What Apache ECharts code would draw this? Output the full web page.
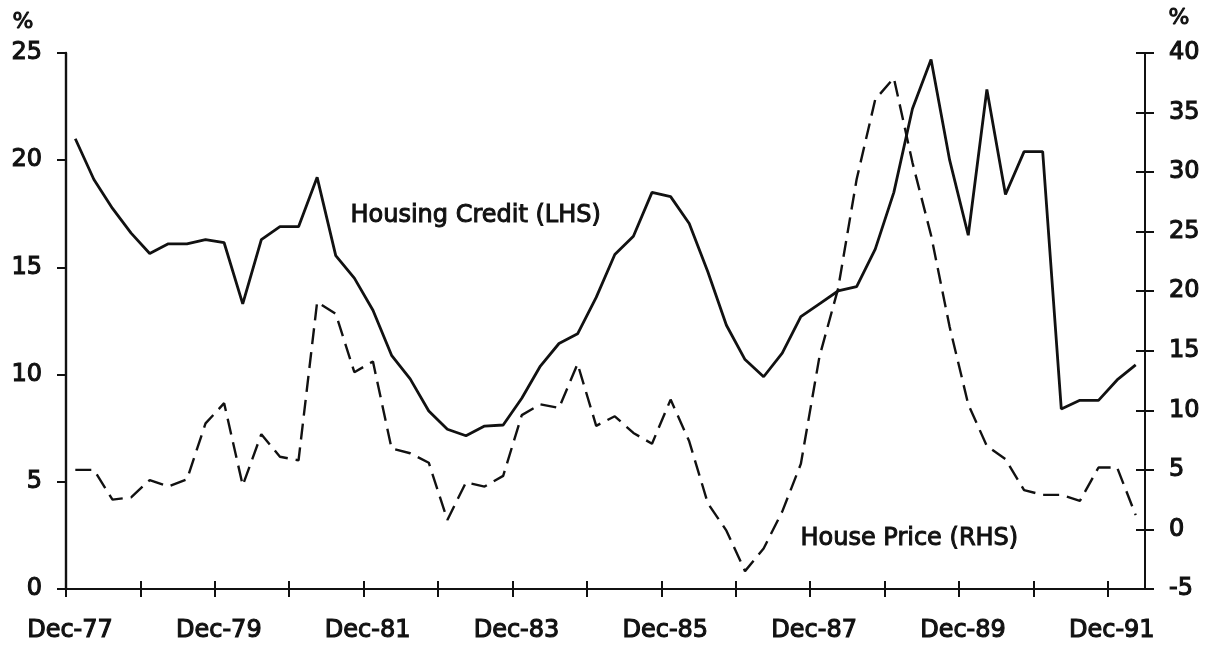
<!DOCTYPE html>
<html>
<head>
<meta charset="utf-8">
<title>Housing Credit and House Price</title>
<script src="https://cdn.jsdelivr.net/npm/echarts@6/dist/echarts.min.js"></script>
<style>
html, body { margin: 0; padding: 0; background: #fff; }
#chart { width: 1211px; height: 647px; }
</style>
</head>
<body>
<div id="chart"></div>
<script>
// quarterly observations, Mar-78 .. Jun-92
var quarters = [
	"Mar-78", "Jun-78", "Sep-78", "Dec-78", "Mar-79", "Jun-79", "Sep-79", "Dec-79",
	"Mar-80", "Jun-80", "Sep-80", "Dec-80", "Mar-81", "Jun-81", "Sep-81", "Dec-81",
	"Mar-82", "Jun-82", "Sep-82", "Dec-82", "Mar-83", "Jun-83", "Sep-83", "Dec-83",
	"Mar-84", "Jun-84", "Sep-84", "Dec-84", "Mar-85", "Jun-85", "Sep-85", "Dec-85",
	"Mar-86", "Jun-86", "Sep-86", "Dec-86", "Mar-87", "Jun-87", "Sep-87", "Dec-87",
	"Mar-88", "Jun-88", "Sep-88", "Dec-88", "Mar-89", "Jun-89", "Sep-89", "Dec-89",
	"Mar-90", "Jun-90", "Sep-90", "Dec-90", "Mar-91", "Jun-91", "Sep-91", "Dec-91",
	"Mar-92", "Jun-92"
];

// Housing Credit, % (left axis)
var housingCredit = [
	21.0, 19.1, 17.75, 16.6, 15.65, 16.1, 16.1, 16.3,
	16.15, 13.3, 16.3, 16.9, 16.9, 19.2, 15.55, 14.5,
	13.0, 10.9, 9.8, 8.3, 7.45, 7.15, 7.6, 7.65,
	8.9, 10.4, 11.45, 11.9, 13.6, 15.6, 16.45, 18.5,
	18.3, 17.05, 14.8, 12.3, 10.7, 9.9, 11.0, 12.7,
	13.3, 13.9, 14.1, 15.85, 18.5, 22.4, 24.7, 20.0,
	16.5, 23.3, 18.4, 20.4, 20.4, 8.4, 8.8, 8.8,
	9.75, 10.45
];

// House Price, % (right axis)
var housePrice = [
	5.0, 5.0, 2.5, 2.7, 4.15, 3.6, 4.2, 8.9,
	10.6, 3.7, 8.0, 6.1, 5.8, 19.1, 18.1, 13.2,
	14.1, 6.8, 6.4, 5.6, 0.8, 3.95, 3.6, 4.5,
	9.6, 10.5, 10.2, 13.9, 8.7, 9.5, 8.1, 7.2,
	10.9, 7.4, 2.2, -0.1, -3.5, -1.6, 1.5, 5.5,
	14.5, 20.2, 29.4, 36.1, 37.9, 30.8, 24.7, 17.0,
	10.5, 7.0, 5.9, 3.3, 2.9, 2.9, 2.4, 5.2,
	5.2, 1.2
];

// x labels every two years, ticks every year (4 quarters)
var xTickLabels = ["Dec-77", "Dec-79", "Dec-81", "Dec-83", "Dec-85", "Dec-87", "Dec-89", "Dec-91"];

var fontFamily = "DejaVu Sans";
var ink = "#111";

// each quarter is drawn in the middle of its slot, Dec-77 is 0
function toPoints(list) {
	return list.map((v, i) => [i + 0.5, v]);
}

var yearTicks = [];
for (var i = 0; i <= (xTickLabels.length - 1) * 8; i += 4) yearTicks.push(i);
var labelTicks = xTickLabels.map((l, i) => i * 8);

function xAxisBase() {
	return {
		type: "value",
		min: 0,
		max: quarters.length,
		interval: 4,
		splitLine: { show: false }
	};
}

var chart = echarts.init(document.getElementById("chart"), null, { renderer: "canvas" });

var labelStyle = {
	color: ink,
	fontFamily: fontFamily,
	fontSize: 24,
	textBorderColor: ink,
	textBorderWidth: 1.1
};

var option = {
	animation: false,
	backgroundColor: "#fff",
	grid: { left: 66, right: 66, top: 53, bottom: 58 },
	xAxis: [
		Object.assign(xAxisBase(), {
			position: "bottom",
			axisLine: { show: true, onZero: false, lineStyle: { color: ink, width: 2 } },
			axisTick: { show: true, length: 8, customValues: yearTicks, lineStyle: { color: ink, width: 2 } },
			axisLabel: Object.assign({}, labelStyle, {
				margin: 30,
				padding: [0, 0, 0, 8],
				customValues: labelTicks,
				formatter: v => (v % 8 === 0 ? xTickLabels[v / 8] : "")
			})
		}),
		Object.assign(xAxisBase(), {
			position: "bottom",
			offset: 0,
			axisLine: { show: true, onZero: false, lineStyle: { color: ink, width: 2 } },
			axisTick: { show: true, inside: true, length: 8, customValues: yearTicks, lineStyle: { color: ink, width: 2 } },
			axisLabel: { show: false }
		})
	],
	yAxis: [
		{
			type: "value",
			position: "left",
			min: 0,
			max: 25,
			interval: 5,
			splitLine: { show: false },
			axisLine: { show: true, onZero: false, lineStyle: { color: ink, width: 2.4 } },
			axisTick: { show: true, length: 9, lineStyle: { color: ink, width: 2 } },
			axisLabel: Object.assign({}, labelStyle, { margin: 24 })
		},
		{
			type: "value",
			position: "right",
			min: -5,
			max: 40,
			interval: 5,
			splitLine: { show: false },
			axisLine: { show: true, onZero: false, lineStyle: { color: ink, width: 2 } },
			axisTick: { show: true, length: 9, lineStyle: { color: ink, width: 2 } },
			axisLabel: Object.assign({}, labelStyle, { margin: 24 })
		},
		{
			type: "value",
			position: "right",
			offset: 0,
			min: -5,
			max: 40,
			interval: 5,
			splitLine: { show: false },
			axisLine: { show: true, onZero: false, lineStyle: { color: ink, width: 2 } },
			axisTick: { show: true, inside: true, length: 9, lineStyle: { color: ink, width: 2 } },
			axisLabel: { show: false }
		}
	],
	series: [
		{
			name: "Housing Credit (LHS)",
			type: "line",
			xAxisIndex: 0,
			yAxisIndex: 0,
			data: toPoints(housingCredit),
			symbol: "none",
			z: 3,
			lineStyle: { color: ink, width: 2.8 }
		},
		{
			name: "House Price (RHS)",
			type: "line",
			xAxisIndex: 0,
			yAxisIndex: 1,
			data: toPoints(housePrice),
			symbol: "none",
			z: 2,
			lineStyle: { color: ink, width: 2.4, type: [16, 8] }
		}
	],
	graphic: [
		{ type: "text", left: 12, top: 11, style: { text: "%", fill: ink, stroke: ink, lineWidth: 1, font: "22px " + fontFamily } },
		{ type: "text", left: 1168, top: 7, style: { text: "%", fill: ink, stroke: ink, lineWidth: 1, font: "22px " + fontFamily } },
		{ type: "text", left: 350, top: 203, style: { text: "Housing Credit (LHS)", fill: ink, stroke: ink, lineWidth: 1, font: "24px " + fontFamily } },
		{ type: "text", left: 800, top: 526, style: { text: "House Price (RHS)", fill: ink, stroke: ink, lineWidth: 1, font: "24px " + fontFamily } }
	]
};

chart.setOption(option);
</script>
</body>
</html>
